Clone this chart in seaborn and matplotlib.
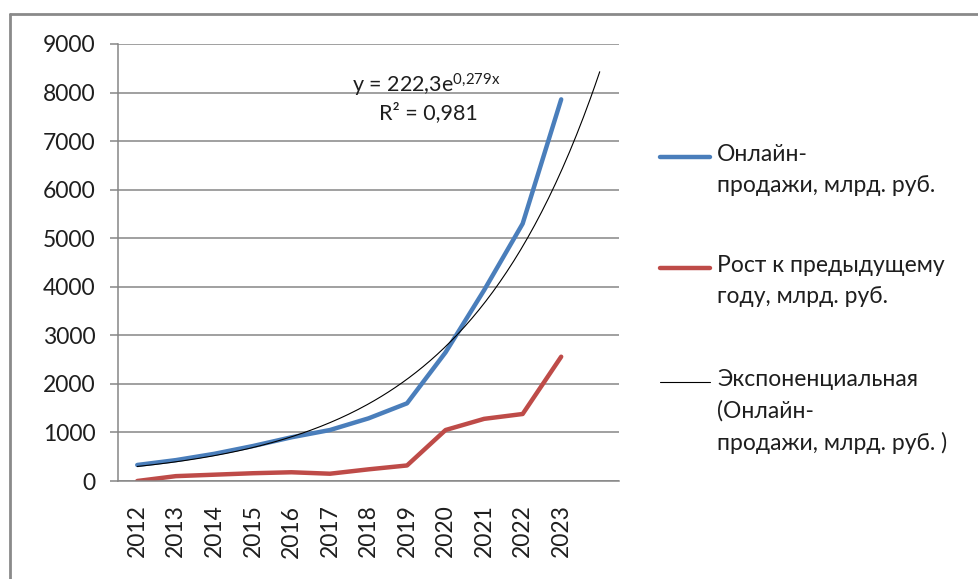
import numpy as np
import pandas as pd
import matplotlib
matplotlib.use('Agg')
import matplotlib.pyplot as plt
import seaborn as sns
from matplotlib.lines import Line2D

# Data
years = ['2012', '2013', '2014', '2015', '2016', '2017', '2018', '2019', '2020', '2021', '2022', '2023']
online_sales = [330, 430, 560, 720, 900, 1050, 1290, 1600, 2650, 3930, 5300, 7860]
growth = [0, 100, 130, 160, 180, 150, 240, 320, 1050, 1280, 1380, 2560]
label_sales = 'Онлайн-\nпродажи, млрд. руб.'
label_growth = 'Рост к предыдущему\nгоду, млрд. руб.'
label_trend = 'Экспоненциальная\n(Онлайн-\nпродажи, млрд. руб. )'
trend_eq = 'y = 222,3e$^{0{,}279x}$'
trend_r2 = 'R² = 0,981'

BLUE = '#4a7ebb'
RED = '#be4b48'
GRID = '#868686'
TXT = '#1e1e1e'
FS = 16.5

sns.set_style('white')
plt.rcParams['font.family'] = ['Lato', 'DejaVu Sans']
plt.rcParams['mathtext.default'] = 'regular'

idx = np.arange(1, len(years) + 1)
df = pd.DataFrame({'idx': idx, 'sales': online_sales, 'growth': growth})

# exponential trend (Excel style: category index, one period forward)
b, log_a = np.polyfit(df['idx'], np.log(df['sales']), 1)
x_tr = np.linspace(1, len(years) + 1, 200)
trend = pd.DataFrame({'x': x_tr, 'y': np.exp(log_a) * np.exp(b * x_tr)})

fig = plt.figure(figsize=(9.79, 5.79), dpi=100)
ax = fig.add_axes([118 / 979, 1 - 481 / 579, 501 / 979, 437 / 579])

sns.lineplot(data=df, x='idx', y='sales', ax=ax, color=BLUE, lw=3.2, solid_capstyle='round')
sns.lineplot(data=df, x='idx', y='growth', ax=ax, color=RED, lw=3.2, solid_capstyle='round')
sns.lineplot(data=trend, x='x', y='y', ax=ax, color='black', lw=0.8)

ax.set_xlim(0.5, len(years) + 1.5)
ax.set_ylim(0, 9000)
ax.set_yticks(np.arange(0, 9001, 1000))
ax.yaxis.grid(True, color=GRID, lw=1.1)
ax.set_axisbelow(True)
ax.set_xticks(idx)
ax.set_xticklabels(years, rotation=90, fontsize=FS, color=TXT)
ax.set_xticks(np.arange(0.5, len(years) + 2, 1), minor=True)
ax.tick_params(axis='x', which='major', length=0, pad=17)
ax.tick_params(axis='x', which='minor', length=4.5, color=GRID, width=1.1, direction='out')
ax.tick_params(axis='y', length=6, color=GRID, width=1.1, labelsize=FS, labelcolor=TXT, pad=10, left=True)
ax.set_xlabel('')
ax.set_ylabel('')
for s in ['top', 'right']:
    ax.spines[s].set_visible(False)
for s in ['left', 'bottom']:
    ax.spines[s].set_color(GRID)
    ax.spines[s].set_linewidth(1.1)

# trendline equation
ax.text(0.615, 0.906, trend_eq, transform=ax.transAxes, ha='center', va='center', fontsize=15.5, color=TXT)
ax.text(0.62, 0.842, trend_r2, transform=ax.transAxes, ha='center', va='center', fontsize=15.5, color=TXT)

# legend, laid out like the spreadsheet one
entries = [(label_sales, BLUE, 3.2, 157), (label_growth, RED, 3.2, 268), (label_trend, 'black', 0.8, 382)]
for text, col, lw, ymid in entries:
    yf = 1 - ymid / 579
    fig.add_artist(Line2D([660 / 979, 710 / 979], [yf, yf], color=col, lw=lw, solid_capstyle='round'))
    fig.text(717 / 979, 1 - (ymid - 13) / 579, text, ha='left', va='top', fontsize=FS,
             linespacing=1.58, color=TXT)

# outer frame (only top and left visible)
fig.add_artist(Line2D([10 / 979, 10 / 979], [0, 1 - 14 / 579], color='#8a8a8a', lw=2))
fig.add_artist(Line2D([10 / 979, 1], [1 - 14 / 579, 1 - 14 / 579], color='#8a8a8a', lw=2))

fig.savefig('out.png', dpi=100)
